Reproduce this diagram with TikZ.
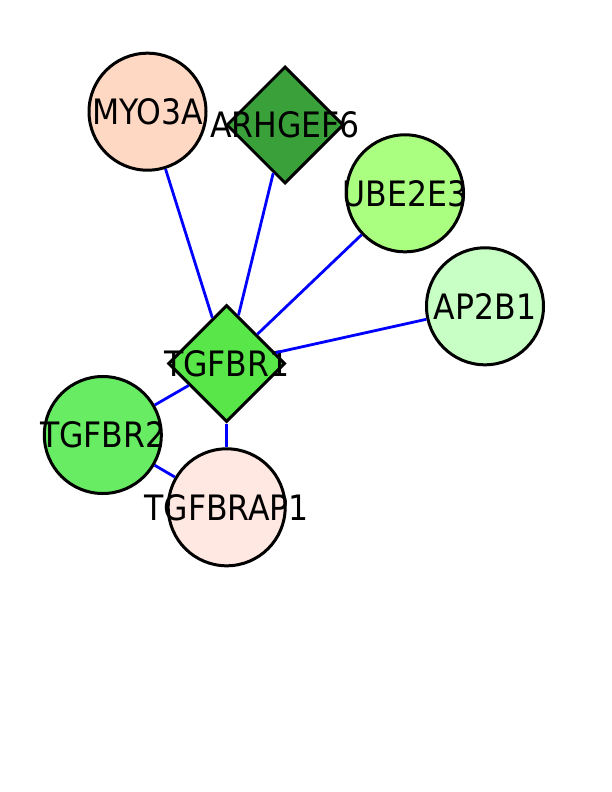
\documentclass[tikz,border=0pt]{standalone}
\usepackage{fontspec}
\newfontfamily\genefont{DejaVu Sans Condensed}
\usetikzlibrary{shapes.geometric}
\definecolor{myo3aFill}{RGB}{255,216,196}
\definecolor{arhgef6Fill}{RGB}{58,160,58}
\definecolor{ube2e3Fill}{RGB}{170,255,128}
\definecolor{ap2b1Fill}{RGB}{200,255,196}
\definecolor{tgfbr1Fill}{RGB}{88,230,72}
\definecolor{tgfbr2Fill}{RGB}{104,236,100}
\definecolor{tgfbrap1Fill}{RGB}{255,232,226}
\tikzset{
	interaction network/.style={
		x=1pt, y=-1pt,
		ppi/.style={draw=blue, line width=2.8pt},
		every label/.style={font=\genefont\fontsize{35}{35}\selectfont, inner sep=0pt}
		},
	node size/.store in=\nodesize,
	node size=117pt,
	gene/.style={circle, draw, line width=3pt, minimum size=\nodesize, inner sep=0pt, fill=#1},
	hub/.style={diamond, draw, line width=3pt, minimum size=\nodesize, inner sep=0pt, fill=#1}
}

\begin{document}
\begin{tikzpicture}[interaction network]
      \fill[white] (0,0) rectangle (612,792); %page
      \useasboundingbox (0,0) rectangle (612,792);
      \node[gene=myo3aFill, label=center:MYO3A] (myo3a) at (147.5,111.7) {};
      \node[hub=arhgef6Fill, label=center:ARHGEF6] (arhgef6) at (285,125) {};
      \node[gene=ube2e3Fill, label=center:UBE2E3] (ube2e3) at (405,193.3) {};
      \node[gene=ap2b1Fill, label=center:AP2B1] (ap2b1) at (485,306.3) {};
      \node[hub=tgfbr1Fill, label=center:TGFBR1] (tgfbr1) at (226.7,363.5) {};
      \node[gene=tgfbr2Fill, label=center:TGFBR2] (tgfbr2) at (102.8,435) {};
      \node[gene=tgfbrap1Fill, label=center:TGFBRAP1] (tgfbrap1) at (226.7,507.3) {};
      \foreach \partner in {myo3a,arhgef6,ube2e3,ap2b1,tgfbr2,tgfbrap1}
          \draw[ppi] (tgfbr1) -- (\partner);
      \draw[ppi] (tgfbr2) -- (tgfbrap1);
   \end{tikzpicture}
\end{document}
